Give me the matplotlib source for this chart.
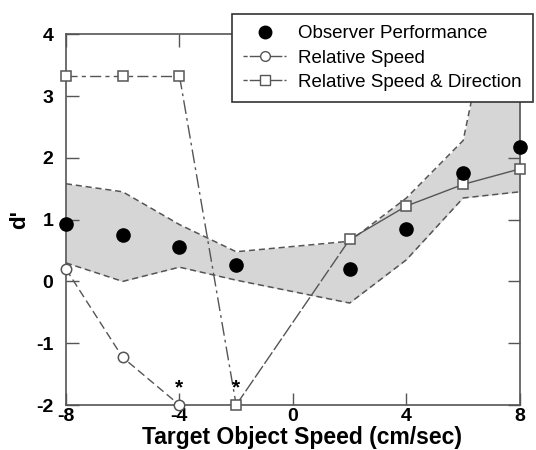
import matplotlib
matplotlib.use("Agg")
import matplotlib.pyplot as plt
import numpy as np

plt.rcParams["font.family"] = ["Liberation Sans", "DejaVu Sans"]
plt.rcParams["axes.unicode_minus"] = False

# data
speed = [-8, -6, -4, -2, 2, 4, 6, 8]
observer = [0.93, 0.75, 0.56, 0.27, 0.20, 0.85, 1.75, 2.17]
band_hi = [1.58, 1.45, 0.92, 0.48, 0.65, 1.35, 2.28, 6.7]
band_lo = [0.30, 0.00, 0.23, 0.02, -0.35, 0.35, 1.35, 1.45]

rel_speed_x = [-8, -6, -4]
rel_speed = [0.20, -1.23, -2.00]

rel_dir_x = [-8, -6, -4, -2, 2, 4, 6, 8]
rel_dir = [3.33, 3.33, 3.33, -2.00, 0.68, 1.22, 1.57, 1.82]

star_x = [-4, -2]
star_y = [-1.72, -1.72]

fig = plt.figure(figsize=(5.36, 4.5), dpi=100)
ax = fig.add_axes([0.123, 0.10, 0.847, 0.824])

gray = "#555555"
ax.fill_between(speed, band_lo, band_hi, color="#d6d6d6", lw=0, zorder=1)
ax.plot(speed, band_hi, color=gray, lw=1.1, ls=(0, (4, 2.5)), zorder=2)
ax.plot(speed, band_lo, color=gray, lw=1.1, ls=(0, (4, 2.5)), zorder=2)

# relative speed & direction: segment styles change along the curve
ax.plot(rel_dir_x[:3], rel_dir[:3], color=gray, lw=1, ls=(0, (8, 3, 3, 3)), zorder=3)
ax.plot(rel_dir_x[2:4], rel_dir[2:4], color=gray, lw=1, ls=(0, (10, 3, 2, 3)), zorder=3)
ax.plot(rel_dir_x[3:5], rel_dir[3:5], color=gray, lw=1, ls=(0, (10, 2)), zorder=3)
ax.plot(rel_dir_x[4:], rel_dir[4:], color=gray, lw=1, zorder=3)
ax.plot(rel_dir_x, rel_dir, ls="none", marker="s", ms=7.5, mfc="white",
        mec=gray, mew=1.1, zorder=5, clip_on=False)

ax.plot(rel_speed_x, rel_speed, color=gray, lw=1, ls=(0, (6, 3)), marker="o",
        ms=7.5, mfc="white", mec=gray, mew=1.1, zorder=5, clip_on=False)

ax.plot(speed, observer, ls="none", marker="o", ms=9.5, color="black",
        zorder=6, clip_on=False)

for sx, sy in zip(star_x, star_y):
    ax.text(sx, sy, "*", ha="center", va="center", fontsize=15, fontweight="bold")

# legend handles
h_obs = plt.Line2D([], [], ls="none", marker="o", ms=9, color="black")
h_rs = plt.Line2D([], [], color=gray, lw=1, ls=(0, (3, 1.5, 8, 0)), marker="o",
                  ms=7, mfc="white", mec=gray)
h_rd = plt.Line2D([], [], color=gray, lw=1, ls=(0, (3, 1.5, 8, 0)), marker="s",
                  ms=7, mfc="white", mec=gray)
leg = fig.legend([h_obs, h_rs, h_rd],
                 ["Observer Performance", "Relative Speed", "Relative Speed & Direction"],
                 loc="upper left", bbox_to_anchor=(0.433, 0.969), fontsize=13.5,
                 frameon=True, fancybox=False, borderpad=0.6, labelspacing=0.38,
                 handlelength=2.3, handletextpad=0.6, borderaxespad=0)
leg.get_frame().set_edgecolor("#333333")
leg.get_frame().set_linewidth(1.2)
leg.get_frame().set_alpha(1)
leg.set_zorder(10)

ax.set_xlim(-8, 8)
ax.set_ylim(-2, 4)
ax.set_xticks([-8, -4, 0, 4, 8])
ax.set_yticks([-2, -1, 0, 1, 2, 3, 4])
ax.tick_params(direction="in", length=9, width=1, color=gray, top=True, right=True,
               labelsize=14)
ax.tick_params(axis="x", pad=2)
ax.tick_params(axis="y", pad=9)
for lab in ax.get_xticklabels() + ax.get_yticklabels():
    lab.set_fontweight("bold")
for sp in ax.spines.values():
    sp.set_color(gray)
    sp.set_linewidth(1.2)

ax.set_xlabel("Target Object Speed (cm/sec)", fontsize=16.5, fontweight="bold",
              va="center")
ax.xaxis.set_label_coords(0.52, -0.087)
ax.set_ylabel("d'", fontsize=16, fontweight="bold", labelpad=4)

fig.savefig("out.png", dpi=100)
